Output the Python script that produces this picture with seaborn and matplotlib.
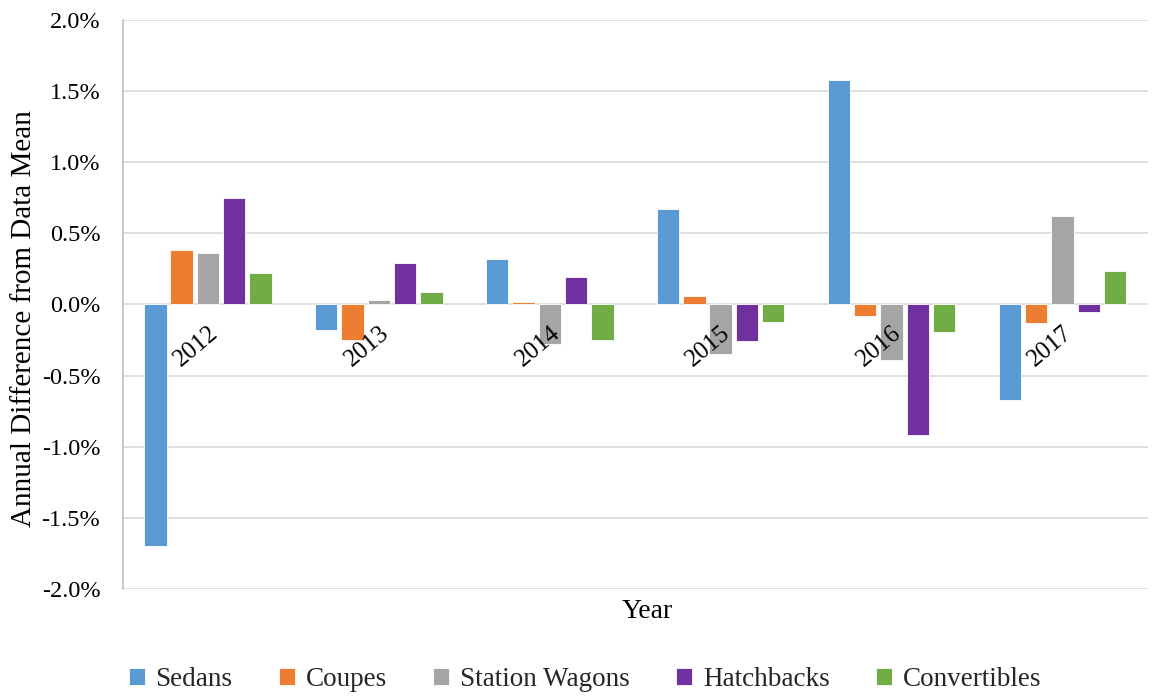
import numpy as np
import pandas as pd
import matplotlib
matplotlib.use("Agg")
import matplotlib.pyplot as plt
import matplotlib.transforms as mtransforms
from matplotlib.ticker import FuncFormatter
import seaborn as sns

years = ["2012", "2013", "2014", "2015", "2016", "2017"]
series_names = ["Sedans", "Coupes", "Station Wagons", "Hatchbacks", "Convertibles"]
sedans = [-1.70, -0.18, 0.32, 0.67, 1.58, -0.67]
coupes = [0.38, -0.25, 0.02, 0.06, -0.08, -0.13]
station_wagons = [0.36, 0.035, -0.28, -0.35, -0.39, 0.62]
hatchbacks = [0.75, 0.29, 0.19, -0.26, -0.92, -0.05]
convertibles = [0.22, 0.09, -0.25, -0.12, -0.19, 0.235]
colors = ["#5B9BD5", "#ED7D31", "#A5A5A5", "#7030A0", "#70AD47"]

values = [sedans, coupes, station_wagons, hatchbacks, convertibles]
rows = []
for name, vals in zip(series_names, values):
    for y, v in zip(years, vals):
        rows.append({"Year": y, "Type": name, "Value": v})
df = pd.DataFrame(rows)

sns.set_theme(style="white")
plt.rcParams['font.family'] = ['Liberation Serif', 'DejaVu Serif']

fig, ax = plt.subplots(figsize=(11.56, 6.96), dpi=100)
fig.subplots_adjust(left=0.106, right=0.993, top=0.971, bottom=0.154)

sns.barplot(data=df, x="Year", y="Value", hue="Type", hue_order=series_names,
            palette=colors, order=years, width=0.77, gap=0.15, ax=ax,
            edgecolor="white", linewidth=0.6, saturation=1, legend=True)

ax.set_ylim(-2.0, 2.0)
ax.set_xlim(-0.5, len(years) - 0.5)
ax.set_yticks(np.arange(-2.0, 2.01, 0.5))
ax.yaxis.set_major_formatter(FuncFormatter(lambda v, p: f"{v:.1f}%"))
ax.tick_params(axis='y', labelsize=17.5, length=0, pad=16, colors="black")
ax.grid(axis='y', color="#d9d9d9", linewidth=1.2)
ax.set_axisbelow(True)
for s in ["top", "right", "bottom"]:
    ax.spines[s].set_visible(False)
ax.spines["left"].set_color("#bfbfbf")
ax.spines["left"].set_linewidth(1.2)

ax.set_xticks([])
ax.set_xlabel("Year", fontsize=20, color="black")
ax.xaxis.set_label_coords(0.512, -0.018)
ax.set_ylabel("Annual Difference from Data Mean", fontsize=21, color="black")
ax.yaxis.set_label_coords(-0.083, 0.475)

offset = mtransforms.ScaledTranslation(0 / 100, -17 / 100, fig.dpi_scale_trans)
for i, y in enumerate(years):
    ax.text(i, 0, y, rotation=40, ha="right", va="top", rotation_mode="anchor",
            fontsize=18, color="black", transform=ax.transData + offset)

handles, labels = ax.get_legend_handles_labels()
ax.legend_.remove()
fig.legend(handles, labels, loc="center", bbox_to_anchor=(0.506, 0.024),
           ncol=5, frameon=False, fontsize=19.5, handlelength=0.6, handleheight=0.6,
           handletextpad=0.4, columnspacing=1.7, borderaxespad=0, borderpad=0)

fig.savefig("out.png", dpi=100)
